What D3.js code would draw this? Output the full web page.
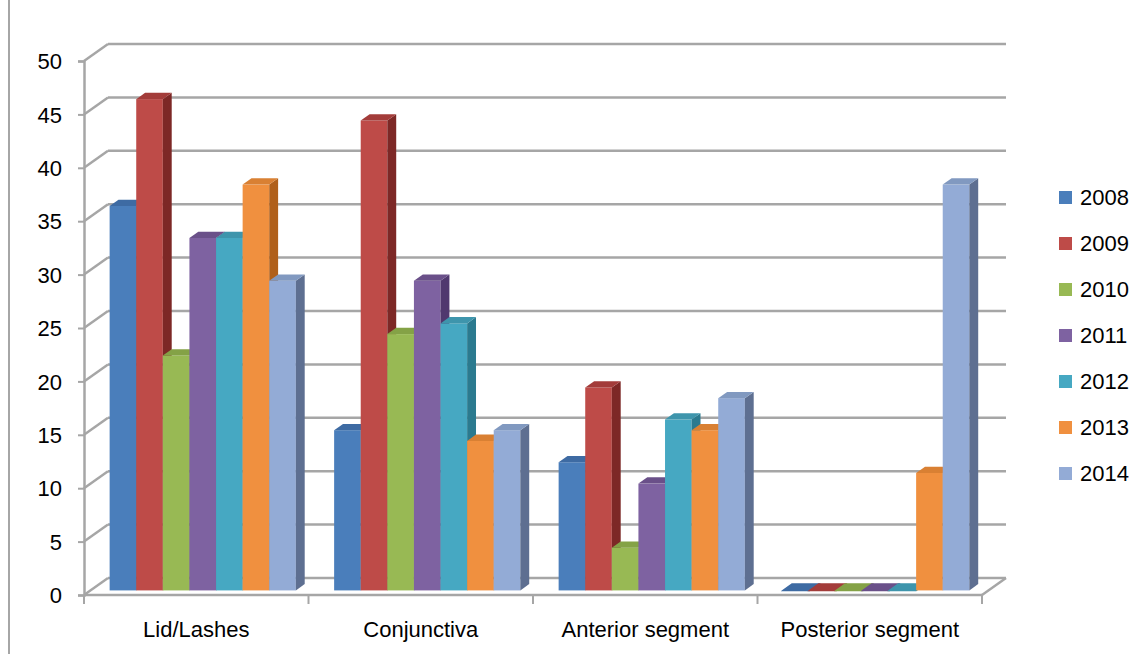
<!DOCTYPE html>
<html>
<head>
<meta charset="utf-8">
<script src="https://cdn.jsdelivr.net/npm/d3@7"></script>
<style>
  html, body { margin: 0; padding: 0; background: #fff; }
  svg { display: block; }
  text { font-family: "Liberation Sans", Arial, sans-serif; fill: #000; }
</style>
</head>
<body>
<svg id="chart" width="1143" height="660"></svg>
<script>
// Eye findings by location, counted per year
const categories = ["Lid/Lashes", "Conjunctiva", "Anterior segment", "Posterior segment"];
const years = ["2008", "2009", "2010", "2011", "2012", "2013", "2014"];
const v2008 = [36, 15, 12, 0];
const v2009 = [46, 44, 19, 0];
const v2010 = [22, 24, 4, 0];
const v2011 = [33, 29, 10, 0];
const v2012 = [33, 25, 16, 0];
const v2013 = [38, 14, 15, 11];
const v2014 = [29, 15, 18, 38];
const yTicks = [0, 5, 10, 15, 20, 25, 30, 35, 40, 45, 50];

const series = [v2008, v2009, v2010, v2011, v2012, v2013, v2014];

// face colours per series: front, right side, top
const frontColors = ["#4a7ebb", "#be4b48", "#98b954", "#7e62a1", "#46a8c2", "#f0903f", "#93abd6"];
const sideColors  = ["#2f5a8c", "#7d2826", "#67822f", "#50386e", "#2b7a8f", "#b0601b", "#5e6f91"];
const topColors   = ["#3e6ba3", "#a33c3a", "#84a246", "#6a5089", "#3e95ac", "#d98033", "#8199c0"];

const svg = d3.select("#chart");

// front plane of the 3D box
const x0 = d3.scaleBand().domain(categories).range([84, 982]).padding(0);
const x1 = d3.scaleBand().domain(years).range([0, x0.bandwidth()]).paddingInner(0).paddingOuter(0.72);
const y = d3.scaleLinear().domain([0, 50]).range([595, 61]);

// depth offset of the back wall
const DX = 24, DY = 17;
const px = (x, z) => x + z * DX;
const py = (v, z) => y(v) - z * DY;

const gridColor = "#a6a6a6";

// outer frame edge on the left
svg.append("line")
  .attr("x1", 9).attr("x2", 9).attr("y1", 0).attr("y2", 654)
  .attr("stroke", "#a6a6a6").attr("stroke-width", 2);

// back-wall gridlines and side-wall diagonals
const grid = svg.append("g").attr("fill", "none").attr("stroke", gridColor).attr("stroke-width", 2.5);
yTicks.forEach(t => {
  grid.append("line")
    .attr("x1", px(84, 1)).attr("x2", px(982, 1))
    .attr("y1", py(t, 1)).attr("y2", py(t, 1));
  grid.append("line")
    .attr("x1", px(84, 0)).attr("x2", px(84, 1))
    .attr("y1", py(t, 0)).attr("y2", py(t, 1));
});
// floor: right edge
grid.append("line")
  .attr("x1", px(982, 0)).attr("x2", px(982, 1))
  .attr("y1", py(0, 0)).attr("y2", py(0, 1));

// bars, front depth z0 to back depth z1
const z0 = 0.27, z1 = 0.64;
const bars = svg.append("g");
categories.forEach((cat, ci) => {
  years.forEach((yr, si) => {
    const v = series[si][ci];
    const xl = x0(cat) + x1(yr);
    const xr = xl + x1.bandwidth();
    const yTop = py(v, z0), yBot = py(0, z0);
    const g = bars.append("g");
    if (v > 0) {
      g.append("rect")
        .attr("x", px(xl, z0)).attr("y", yTop)
        .attr("width", x1.bandwidth()).attr("height", yBot - yTop)
        .attr("fill", frontColors[si]);
      g.append("path")
        .attr("d", d3.line()([
          [px(xr, z0), py(v, z0)], [px(xr, z1), py(v, z1)],
          [px(xr, z1), py(0, z1)], [px(xr, z0), py(0, z0)]
        ]) + "Z")
        .attr("fill", sideColors[si]);
    }
    g.append("path")
      .attr("d", d3.line()([
        [px(xl, z0), py(v, z0)], [px(xl, z1), py(v, z1)],
        [px(xr, z1), py(v, z1)], [px(xr, z0), py(v, z0)]
      ]) + "Z")
      .attr("fill", topColors[si])
      .attr("stroke", topColors[si]).attr("stroke-width", v > 0 ? 0 : 1.5);
  });
});

// value axis on the front plane
const yAxis = svg.append("g")
  .attr("transform", "translate(84,0)")
  .call(d3.axisLeft(y).tickValues(yTicks).tickSize(6).tickPadding(16).tickFormat(d3.format("d")));
yAxis.select(".domain").attr("stroke", gridColor).attr("stroke-width", 2.5);
yAxis.selectAll(".tick line").attr("stroke", gridColor).attr("stroke-width", 2);
yAxis.selectAll(".tick text").style("font-size", "22px").attr("dy", "0.35em").attr("fill", "#000");

// category axis on the front floor edge
const xAxis = svg.append("g")
  .attr("transform", "translate(0,595)")
  .call(d3.axisBottom(x0).tickSize(0).tickPadding(26));
xAxis.select(".domain").remove();
xAxis.selectAll(".tick text").style("font-size", "22px").attr("fill", "#000");
svg.append("line")
  .attr("x1", 84).attr("x2", 982).attr("y1", 595).attr("y2", 595)
  .attr("stroke", gridColor).attr("stroke-width", 2.5);
const bounds = categories.map(c => x0(c)).concat([x0.range()[1]]);
svg.append("g").selectAll("line").data(bounds).join("line")
  .attr("x1", d => d).attr("x2", d => d)
  .attr("y1", 595).attr("y2", 604)
  .attr("stroke", gridColor).attr("stroke-width", 2);

// legend
const legend = svg.append("g").attr("transform", "translate(1059,0)");
years.forEach((yr, i) => {
  const cy = 197.5 + i * 46;
  legend.append("rect")
    .attr("x", 0).attr("y", cy - 6.5).attr("width", 13).attr("height", 13)
    .attr("fill", frontColors[i]);
  legend.append("text")
    .attr("x", 21).attr("y", cy).attr("dy", "0.36em")
    .style("font-size", "22px").text(yr);
});
</script>
</body>
</html>
